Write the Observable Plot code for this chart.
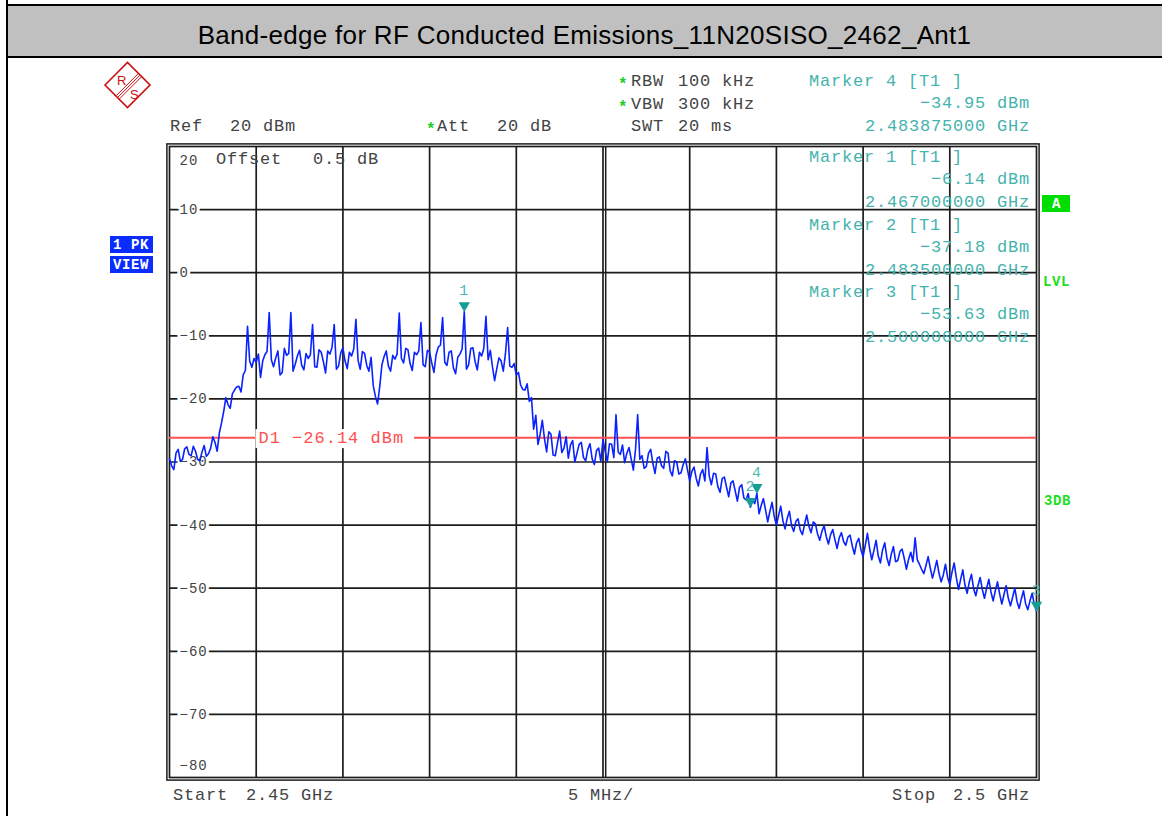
<!DOCTYPE html>
<html>
<head>
<meta charset="utf-8">
<script src="https://cdn.jsdelivr.net/npm/d3@7"></script>
<script src="https://cdn.jsdelivr.net/npm/@observablehq/plot@0.6"></script>
<style>
  html, body { margin: 0; padding: 0; background: #fff; }
  #page { position: relative; width: 1162px; height: 816px; overflow: hidden; background: #fff; }
  #band { position: absolute; left: 7px; top: 4px; width: 1155px; height: 50px; background: #c0c0c0;
          border-top: 2px solid #000; border-bottom: 2px solid #000; }
  #title { position: absolute; left: 7px; width: 1155px; top: 20px; text-align: center;
           font-family: "Liberation Sans", Arial, sans-serif; font-size: 26px; line-height: 30px; color: #000; letter-spacing: 0.3px; }
  #vline { position: absolute; left: 6px; top: 0; width: 2px; height: 816px; background: #000; }
  #chart { position: absolute; left: 0; top: 58px; }
  .t { position: absolute; white-space: pre; line-height: 1; }
</style>
</head>
<body>
<div id="page">
  <div id="band"></div>
  <div id="title">Band-edge for RF Conducted Emissions_11N20SISO_2462_Ant1</div>
  <div id="vline"></div>
  <svg id="logo" style="position:absolute;left:100px;top:58px" width="58" height="56" viewBox="100 58 58 56">
    <polygon points="105,85 127.5,62.5 150,85 127.5,107.5" fill="none" stroke="#cc1010" stroke-width="1.6"/>
    <line x1="139.8" y1="75.3" x2="117.8" y2="97.3" stroke="#cc1010" stroke-width="1"/>
    <line x1="138.2" y1="73.7" x2="116.2" y2="95.7" stroke="#cc1010" stroke-width="1"/>
    <line x1="141.4" y1="76.9" x2="119.4" y2="98.9" stroke="#cc1010" stroke-width="1"/>
    <text x="117" y="85" font-family="Liberation Sans" font-size="13" fill="#cc1010">R</text>
    <text x="130" y="99" font-family="Liberation Sans" font-size="13" fill="#cc1010">S</text>
  </svg>
  <div id="chart"></div>
</div>
<script>
// ---------------- data ----------------
const sweepStartGHz = 2.45;
const sweepStopGHz = 2.5;
// trace levels (dBm), every 0.125 MHz from 2.45 GHz to 2.5 GHz
const levels = [
  -29.5, -30.6, -31.2, -28.6, -28.0, -29.9, -29.6, -27.9, -27.6, -28.8, -29.0, -27.5, -28.3, -29.6, -29.8, -28.4, -27.4, -29.1, -28.7, -27.8,
  -26.0, -26.9, -28.3, -25.4, -23.8, -22.0, -19.8, -20.9, -21.5, -19.2, -18.6, -18.1, -18.0, -18.9, -16.2, -15.5, -8.5, -14.0, -15.0, -13.6,
  -14.2, -12.9, -16.6, -14.0, -13.0, -12.5, -6.3, -13.8, -14.9, -13.5, -12.4, -16.2, -15.8, -12.0, -13.1, -12.8, -6.3, -15.6, -14.5, -13.2,
  -12.3, -14.7, -15.4, -12.8, -13.6, -13.0, -8.2, -14.9, -15.0, -12.2, -12.6, -14.1, -15.9, -12.4, -12.9, -11.8, -8.2, -15.3, -14.8, -12.7,
  -11.9, -14.0, -15.2, -12.6, -13.2, -12.1, -7.4, -13.9, -15.3, -12.5, -12.8, -14.7, -15.6, -13.4, -17.9, -19.6, -20.8, -18.0, -14.6, -13.3,
  -12.4, -14.8, -15.6, -13.1, -13.7, -12.9, -6.4, -13.6, -14.3, -12.0, -12.2, -14.4, -15.5, -12.6, -13.0, -12.4, -7.9, -14.6, -14.9, -12.3,
  -12.6, -14.3, -15.8, -13.0, -11.8, -11.5, -7.1, -14.2, -14.7, -12.6, -12.4, -15.1, -16.0, -13.4, -12.9, -12.1, -6.14, -15.3, -14.6, -12.0,
  -11.9, -14.1, -15.4, -12.6, -13.2, -12.0, -6.9, -13.8, -12.3, -14.9, -17.1, -15.2, -13.5, -14.0, -15.6, -12.8, -8.7, -14.8, -15.0, -14.4,
  -16.2, -15.8, -17.8, -18.5, -18.6, -17.6, -20.4, -19.8, -24.8, -22.6, -27.2, -25.6, -23.4, -26.3, -28.4, -25.2, -25.6, -28.9, -29.0, -27.0,
  -25.1, -28.5, -27.8, -26.0, -29.4, -27.3, -26.6, -30.0, -28.6, -27.2, -26.9, -29.3, -29.8, -28.0, -27.1, -29.5, -30.4, -28.2, -27.8, -29.9,
  -26.4, -28.3, -29.9, -27.1, -27.2, -29.3, -22.5, -28.4, -28.8, -27.3, -30.1, -28.6, -27.7, -29.5, -31.3, -28.0, -22.5, -29.6, -29.0, -31.0,
  -30.7, -28.6, -28.0, -30.2, -31.8, -29.4, -29.2, -30.6, -31.0, -28.3, -28.6, -31.4, -32.2, -29.8, -30.0, -31.9, -31.7, -30.4, -29.5, -31.3,
  -33.0, -31.5, -30.8, -32.6, -33.8, -31.9, -31.2, -33.0, -27.7, -32.2, -33.6, -31.8, -31.9, -33.9, -34.8, -32.6, -32.4, -34.0, -35.5, -33.3,
  -33.0, -34.6, -36.2, -34.0, -33.6, -35.7, -36.0, -35.0, -37.18, -36.0, -36.6, -34.95, -38.2, -36.9, -35.8, -37.6, -39.5, -37.8, -36.4, -38.6,
  -40.0, -38.5, -37.0, -39.3, -40.6, -38.9, -37.8, -40.1, -41.0, -39.4, -39.0, -40.8, -41.5, -39.9, -38.4, -40.2, -41.2, -39.5, -39.8, -41.4,
  -42.4, -41.0, -40.1, -41.8, -43.0, -41.5, -40.7, -42.3, -43.7, -42.0, -41.2, -42.6, -43.2, -41.9, -41.6, -43.3, -44.6, -42.8, -42.1, -43.9,
  -45.0, -43.2, -41.3, -43.7, -45.5, -44.0, -42.4, -44.9, -46.0, -43.9, -42.8, -45.2, -46.4, -44.6, -43.4, -45.8, -45.6, -44.2, -43.8, -45.3,
  -47.0, -45.4, -44.3, -45.8, -42.0, -45.5, -46.2, -47.0, -47.7, -46.4, -45.0, -46.8, -48.4, -47.1, -45.6, -47.6, -49.0, -47.9, -46.2, -48.3,
  -49.4, -47.5, -46.0, -48.3, -50.2, -48.6, -47.1, -49.5, -50.8, -49.0, -47.8, -50.1, -51.2, -49.6, -48.3, -50.2, -51.6, -50.0, -48.6, -50.6,
  -52.0, -50.4, -49.0, -50.9, -52.5, -51.0, -49.6, -51.6, -52.8, -51.4, -50.0, -52.1, -53.2, -51.7, -50.4, -52.5, -53.4, -52.0, -50.8, -52.6,
  -53.63
];
const yGridTicks = [10, 0, -10, -20, -30, -40, -50, -60, -70];
const yTopTick = 20;
const yBottomTick = -80;
const xGridGHz = [2.455, 2.46, 2.465, 2.47, 2.475, 2.48, 2.485, 2.49, 2.495];
const xCenterGHz = 2.475;
const markerIds = ["1", "2", "3", "4"];
const markerFreqGHz = [2.467, 2.4835, 2.5, 2.483875];
const markerLevelDbm = [-6.14, -37.18, -53.63, -34.95];
const displayLineDbm = -26.14;

// ---------------- build ----------------
const MONO = '"Liberation Mono", "Courier New", monospace';
const minus = v => (v < 0 ? "\u2212" + Math.abs(v) : String(v));
const fmt2 = v => (v < 0 ? "\u2212" : "") + Math.abs(v).toFixed(2);

const step = (sweepStopGHz - sweepStartGHz) / (levels.length - 1);
const trace = levels.map((v, i) => ({ f: sweepStartGHz + i * step, v }));
const markers = markerIds.map((id, i) => ({ id, f: markerFreqGHz[i], v: markerLevelDbm[i] }));

const GRID = "#1c1c1c";
const chart = Plot.plot({
  width: 1162,
  height: 758,
  marginLeft: 169,
  marginRight: 126,
  marginTop: 88,
  marginBottom: 39,
  x: { domain: [sweepStartGHz, sweepStopGHz], axis: null },
  y: { domain: [yBottomTick, yTopTick], axis: null },
  style: { fontFamily: MONO, background: "transparent", overflow: "visible", letterSpacing: "1px" },
  marks: [
    Plot.ruleX(xGridGHz, { stroke: GRID, strokeWidth: 1.7 }),
    Plot.ruleX([xCenterGHz], { stroke: GRID, strokeWidth: 1.5, dx: 2.7 }),
    Plot.ruleY(yGridTicks, { stroke: GRID, strokeWidth: 1.7 }),
    Plot.frame({ stroke: GRID, strokeWidth: 1.7 }),
    Plot.frame({ stroke: GRID, strokeWidth: 1.5, inset: -2.6 }),
    Plot.text(yGridTicks, {
      y: d => d, text: d => minus(d), frameAnchor: "left", dx: 10, textAnchor: "start",
      fill: "#444", stroke: "white", strokeWidth: 6, paintOrder: "stroke", strokeLinejoin: "round",
      fontSize: 14
    }),
    Plot.text([yTopTick], { y: d => d, text: d => minus(d), frameAnchor: "left", dx: 10, dy: 14, textAnchor: "start", fill: "#444", fontSize: 14 }),
    Plot.text([yBottomTick], { y: d => d, text: d => minus(d), frameAnchor: "left", dx: 10, dy: -12, textAnchor: "start", fill: "#444", fontSize: 14 }),
    Plot.ruleY([displayLineDbm], { stroke: "#ff5252", strokeWidth: 2 }),
    Plot.text([displayLineDbm], {
      y: d => d, text: d => `D1 ${fmt2(d)} dBm`, frameAnchor: "left", dx: 89, textAnchor: "start",
      fill: "#ff5050", fontSize: 17
    }),
    Plot.line(trace, { x: "f", y: "v", stroke: "#0a22ff", strokeWidth: 1.6 }),
    Plot.dot(markers, { x: "f", y: "v", symbol: "triangle", rotate: 180, r: 4.2, dy: -6, fill: "#169e95", stroke: "none" }),
    Plot.text(markers, { x: "f", y: "v", text: "id", dy: -21, fill: "#4db8b2", fontSize: 15 })
  ]
});
document.getElementById("chart").appendChild(chart);

// white box behind the display-line label, so the red line is broken there
chart.querySelectorAll("text").forEach(t => {
  if (t.textContent.startsWith("D1")) {
    const b = t.getBBox();
    const r = document.createElementNS("http://www.w3.org/2000/svg", "rect");
    r.setAttribute("x", b.x - 3);
    r.setAttribute("y", b.y);
    r.setAttribute("width", b.width + 13);
    r.setAttribute("height", b.height);
    r.setAttribute("fill", "white");
    const tf = t.getAttribute("transform");
    if (tf) r.setAttribute("transform", tf);
    t.parentNode.insertBefore(r, t);
  }
});

// ---------------- instrument annotations ----------------
const page = document.getElementById("page");
function put(txt, x, y, o = {}) {
  const size = o.size || 17;
  const el = document.createElement("div");
  el.className = "t";
  el.textContent = txt;
  el.style.fontFamily = o.font || MONO;
  el.style.fontSize = size + "px";
  el.style.color = o.color || "#444";
  el.style.letterSpacing = (o.ls ?? 0.8) + "px";
  if (o.weight) el.style.fontWeight = o.weight;
  el.style.top = (y - size * 0.55) + "px";
  if (o.anchor === "end") el.style.right = (1162 - x) + "px"; else el.style.left = x + "px";
  if (o.bg) { el.style.background = o.bg; el.style.padding = o.pad || "2px 3px"; }
  page.appendChild(el);
  return el;
}
const TEAL = "#45b3ad";
const GREEN = "#22cc22";
const star = (x, y) => put("*", x, y + 4, { color: GREEN, size: 16, weight: "bold", ls: 0 });

put("Ref", 170, 127);
put("20 dBm", 230, 127);
star(426, 127);
put("Att", 437, 127);
put("20 dB", 497, 127);
star(618, 82);
put("RBW", 631, 82);
put("100 kHz", 678, 82);
star(618, 105);
put("VBW", 631, 105);
put("300 kHz", 678, 105);
put("SWT", 631, 127);
put("20 ms", 678, 127);

const mBlocks = [
  { id: "4", y: 82 },
  { id: "1", y: 158 },
  { id: "2", y: 226 },
  { id: "3", y: 293 }
];
mBlocks.forEach(b => {
  const k = markerIds.indexOf(b.id);
  put(`Marker ${b.id} [T1 ]`, 809, b.y, { color: TEAL });
  put(`${fmt2(markerLevelDbm[k])} dBm`, 1030, b.y + 22.5, { color: TEAL, anchor: "end" });
  put(`${markerFreqGHz[k].toFixed(9)} GHz`, 1030, b.y + 45, { color: TEAL, anchor: "end" });
});

put("Offset", 216, 160);
put("0.5 dB", 313, 160);

put("Start", 173, 796);
put("2.45 GHz", 246, 796);
put("5 MHz/", 568, 796);
put("Stop", 892, 796);
put("2.5 GHz", 953, 796);

put("A", 1042, 203, { color: "#fff", bg: "#00dd00", weight: "bold", size: 14, ls: 0, pad: "2px 10px 1px 10px" });
put("LVL", 1043, 283, { color: "#22dd22", weight: "bold", size: 14, ls: 0.6 });
put("3DB", 1044, 502, { color: "#22dd22", weight: "bold", size: 14, ls: 0.6 });
put("1 PK", 110, 244, { color: "#fff", bg: "#0a2cff", weight: "bold", size: 14, ls: 0.6, pad: "2px 4px 1px 3px" });
put("VIEW", 110, 264, { color: "#fff", bg: "#0a2cff", weight: "bold", size: 14, ls: 0.6, pad: "2px 4px 1px 3px" });
</script>
</body>
</html>
